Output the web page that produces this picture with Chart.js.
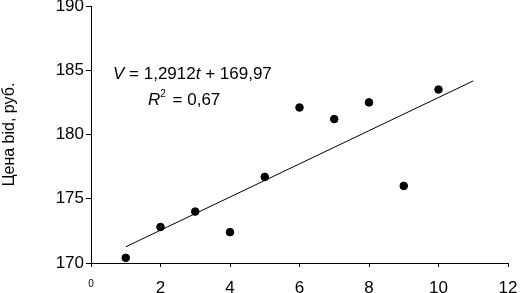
<!DOCTYPE html>
<html lang="ru">
<head>
<meta charset="UTF-8">
<title>Цена bid</title>
<script src="https://cdn.jsdelivr.net/npm/chart.js"></script>
<style>
    html, body { margin: 0; padding: 0; background: #fff; }
    #wrap { width: 520px; height: 293px; }
</style>
</head>
<body>
<div id="wrap"><canvas id="bidChart" width="520" height="293"></canvas></div>
<script>
// observed prices by period
const periods = [1, 2, 3, 4, 5, 6, 7, 8, 9, 10];
const bidPrices = [170.4, 172.8, 174.0, 172.4, 176.7, 182.1, 181.2, 182.5, 176.0, 183.5];

// trend line ends
const trendX = [1, 11];
const trendY = [171.26, 184.17];

const eqLine1 = [['V', true], [' = 1,2912', false], ['t', true], [' + 169,97', false]];
const eqLine2 = [['R', true], ['2', false, true], [' = 0,67', false]];

const FONT = "'Liberation Sans', Arial, sans-serif";

const equationPlugin = {
    id: 'equation',
    afterDatasetsDraw(chart) {
        const ctx = chart.ctx;
        const area = chart.chartArea;
        function drawLine(parts, x, y) {
            parts.forEach(function(p) {
                const small = p[2];
                ctx.font = (p[1] ? 'italic ' : '') + (small ? '10px ' : '17px ') + FONT;
                ctx.fillText(p[0], x, small ? y - 8 : y);
                x += ctx.measureText(p[0]).width + (small ? 2 : 0);
            });
        }
        ctx.save();
        ctx.fillStyle = '#000';
        ctx.textBaseline = 'alphabetic';
        drawLine(eqLine1, area.left + 22, 79);
        drawLine(eqLine2, area.left + 57, 105);
        ctx.restore();
    }
};

const points = periods.map((t, i) => ({ x: t, y: bidPrices[i] }));
const trend = trendX.map((t, i) => ({ x: t, y: trendY[i] }));

new Chart(document.getElementById('bidChart'), {
    type: 'scatter',
    data: {
        datasets: [{
            data: points,
            backgroundColor: '#000',
            borderColor: '#000',
            pointRadius: 3.8,
            pointHoverRadius: 3.8
        }, {
            data: trend,
            showLine: true,
            borderColor: '#000',
            borderWidth: 1,
            pointRadius: 0,
            fill: false
        }]
    },
    options: {
        responsive: false,
        animation: false,
        events: [],
        layout: { padding: { top: 6, right: 12, left: 0, bottom: 0 } },
        plugins: {
            legend: { display: false },
            tooltip: { enabled: false }
        },
        scales: {
            x: {
                type: 'linear',
                min: 0,
                max: 12,
                ticks: {
                    stepSize: 2,
                    color: '#000',
                    padding: 11,
                    maxRotation: 0,
                    font: ctx => ctx.tick && ctx.tick.value === 0
                        ? { family: FONT, size: 10 }
                        : { family: FONT, size: 17 }
                },
                grid: { drawOnChartArea: false, drawTicks: true, tickLength: 4, color: '#000' },
                border: { display: true, color: '#000', width: 1 },
                afterFit(scale) {
                    scale.height = 30;
                    scale.paddingLeft = 0;
                    scale.paddingRight = 0;
                }
            },
            y: {
                min: 170,
                max: 190,
                ticks: {
                    stepSize: 5,
                    color: '#000',
                    padding: 2,
                    font: { family: FONT, size: 17 }
                },
                grid: { drawOnChartArea: false, drawTicks: true, tickLength: 5, color: '#000' },
                border: { display: true, color: '#000', width: 1 },
                title: {
                    display: true,
                    text: 'Цена bid, руб.',
                    color: '#000',
                    font: { family: FONT, size: 16 },
                    padding: { top: 0, bottom: 0 }
                },
                afterFit(scale) {
                    scale.width = 91;
                    scale.paddingTop = 0;
                    scale.paddingBottom = 0;
                }
            }
        }
    },
    plugins: [equationPlugin]
});
</script>
</body>
</html>
